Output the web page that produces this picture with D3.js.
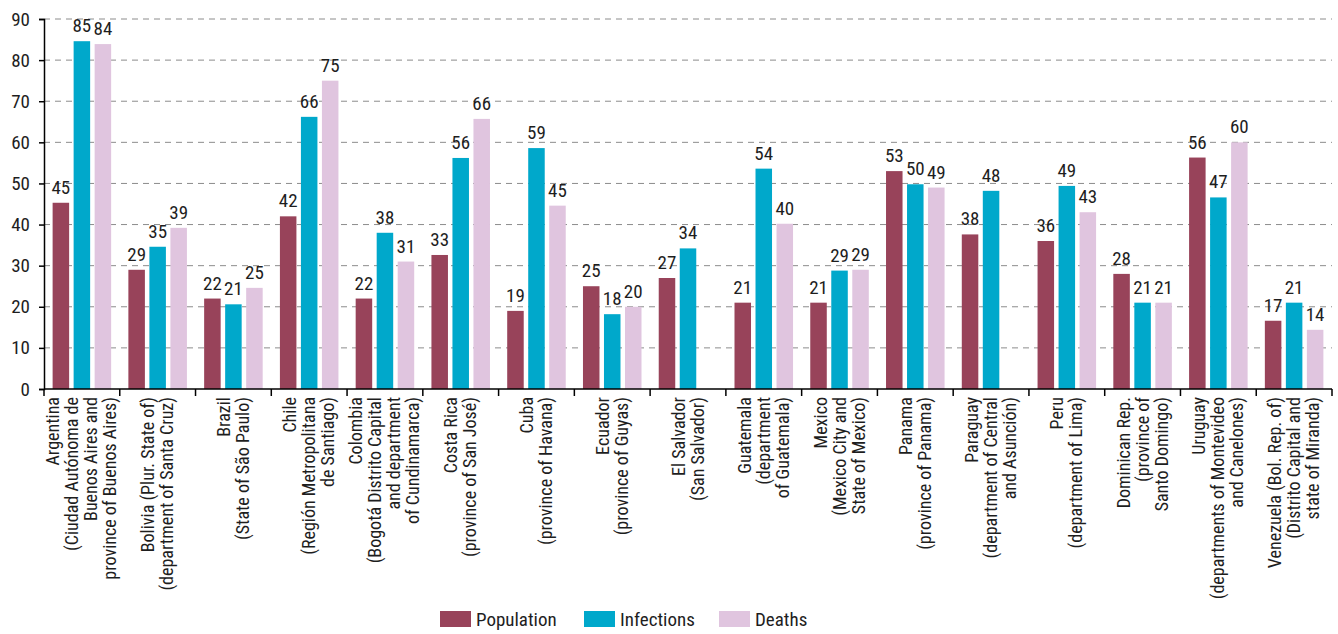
<!DOCTYPE html>
<html><head><meta charset="utf-8">
<script src="https://cdn.jsdelivr.net/npm/d3@7"></script>
<style>
body{margin:0;background:#fff;}
text{font-family:"Liberation Sans Narrow","Roboto Condensed","DejaVu Sans Condensed",sans-serif;fill:#1e1e1e;font-weight:400;}
</style></head>
<body><svg id="c" width="1338" height="634"></svg>
<script>
const categories = [
 ["Argentina","(Ciudad Autónoma de","Buenos Aires and","province of Buenos Aires)"],
 ["Bolivia (Plur. State of)","(department of Santa Cruz)"],
 ["Brazil","(State of São Paulo)"],
 ["Chile","(Región Metropolitana","de Santiago)"],
 ["Colombia","(Bogotá Distrito Capital","and department","of Cundinamarca)"],
 ["Costa Rica","(province of San José)"],
 ["Cuba","(province of Havana)"],
 ["Ecuador","(province of Guyas)"],
 ["El Salvador","(San Salvador)"],
 ["Guatemala","(department","of Guatemala)"],
 ["Mexico","(Mexico City and","State of Mexico)"],
 ["Panama","(province of Panama)"],
 ["Paraguay","(department of Central","and Asunción)"],
 ["Peru","(department of Lima)"],
 ["Dominican Rep.","(province of","Santo Domingo)"],
 ["Uruguay","(departments of Montevideo","and Canelones)"],
 ["Venezuela (Bol. Rep. of)","(Distrito Capital and","state of Miranda)"]
];
const seriesNames = ["Population","Infections","Deaths"];
const population = [45.3,29,22,42,22,32.6,19,25,27,21,21,53,37.6,36,28,56.3,16.6];
const infections = [84.6,34.6,20.6,66.2,38,56.2,58.6,18.2,34.2,53.6,28.8,49.8,48.2,49.4,21,46.6,21];
const deaths     = [83.9,39.2,24.6,75,31,65.7,44.6,20,null,40.2,29,49,null,43,21,60,14.4];
const yTicks = [0,10,20,30,40,50,60,70,80,90];
const colors = ["#98435a","#00a8cb","#e0c5df"];

const svg = d3.select("#c");
const L=44, R=1332, T=19, B=389;
const ids = categories.map((c,i)=>i);
const x = d3.scaleBand().domain(ids).range([L,R]).padding(0);
const x1 = d3.scaleBand().domain(seriesNames).range([0,x.bandwidth()]).paddingInner(0.214).paddingOuter(0.41);
const y = d3.scaleLinear().domain([0,90]).range([B,T]);
const color = d3.scaleOrdinal().domain(seriesNames).range(colors);

// grid
svg.append("g").selectAll("line").data(yTicks.filter(d=>d>0)).join("line")
 .attr("x1",L).attr("x2",R).attr("y1",d=>y(d)).attr("y2",d=>y(d))
 .attr("stroke","#8c8c8c").attr("stroke-width",1).attr("stroke-dasharray","6,5");

const table = seriesNames.map((s,si)=>({s, vals:[population,infections,deaths][si]}));
const groups = svg.append("g").selectAll("g").data(ids).join("g")
 .attr("transform",i=>`translate(${x(i)},0)`);
groups.each(function(i){
  const g = d3.select(this);
  const recs = table.map(t=>({s:t.s, v:t.vals[i]})).filter(d=>d.v!=null);
  g.selectAll("rect").data(recs).join("rect")
   .attr("x",d=>x1(d.s)).attr("width",x1.bandwidth())
   .attr("y",d=>y(d.v)).attr("height",d=>B-y(d.v)).attr("fill",d=>color(d.s));
  g.selectAll("text").data(recs).join("text")
   .attr("x",d=>x1(d.s)+x1.bandwidth()/2).attr("y",d=>y(d.v)-9)
   .attr("text-anchor","middle").attr("font-size",19).text(d=>Math.round(d.v));
});

// y axis
const ya = svg.append("g").attr("transform",`translate(${L},0)`)
 .call(d3.axisLeft(y).tickValues(yTicks).tickSize(5).tickPadding(9).tickFormat(d3.format("d")));
ya.select(".domain").attr("stroke","#000").attr("stroke-width",1.5);
ya.selectAll(".tick line").attr("stroke","#000").attr("stroke-width",1.5);
ya.selectAll("text").attr("font-size",19).attr("fill","#1e1e1e").style("font-family",null);

// x axis
const xa = svg.append("g").attr("transform",`translate(0,${B})`);
xa.append("line").attr("x1",L).attr("x2",R).attr("stroke","#000").attr("stroke-width",1.5);
xa.selectAll("line.t").data(ids.concat([ids.length])).join("line").attr("class","t")
 .attr("x1",i=>i<ids.length?x(i):R).attr("x2",i=>i<ids.length?x(i):R)
 .attr("y1",0).attr("y2",7).attr("stroke","#000").attr("stroke-width",1.5);
const lh = 19;
xa.selectAll("text.lab").data(ids).join("text").attr("class","lab")
 .attr("font-size",18).attr("text-anchor","end")
 .attr("transform",i=>{
   const n = categories[i].length;
   const cx = x(i)+x.bandwidth()/2;
   const x0 = cx - (n-1)*lh/2 + 6;
   return `translate(${x0},8) rotate(-90)`;
 })
 .each(function(i){
   const t = d3.select(this);
   categories[i].forEach((s,k)=>{
     t.append("tspan").attr("x",0).attr("y",k*lh).text(s);
   });
 });

// legend
const lg = svg.append("g");
const lx = [440,584,719];
seriesNames.forEach((s,k)=>{
  lg.append("rect").attr("x",lx[k]).attr("y",611).attr("width",31).attr("height",16).attr("fill",color(s));
  lg.append("text").attr("x",lx[k]+36).attr("y",626).attr("font-size",19).text(s);
});
</script></body></html>
